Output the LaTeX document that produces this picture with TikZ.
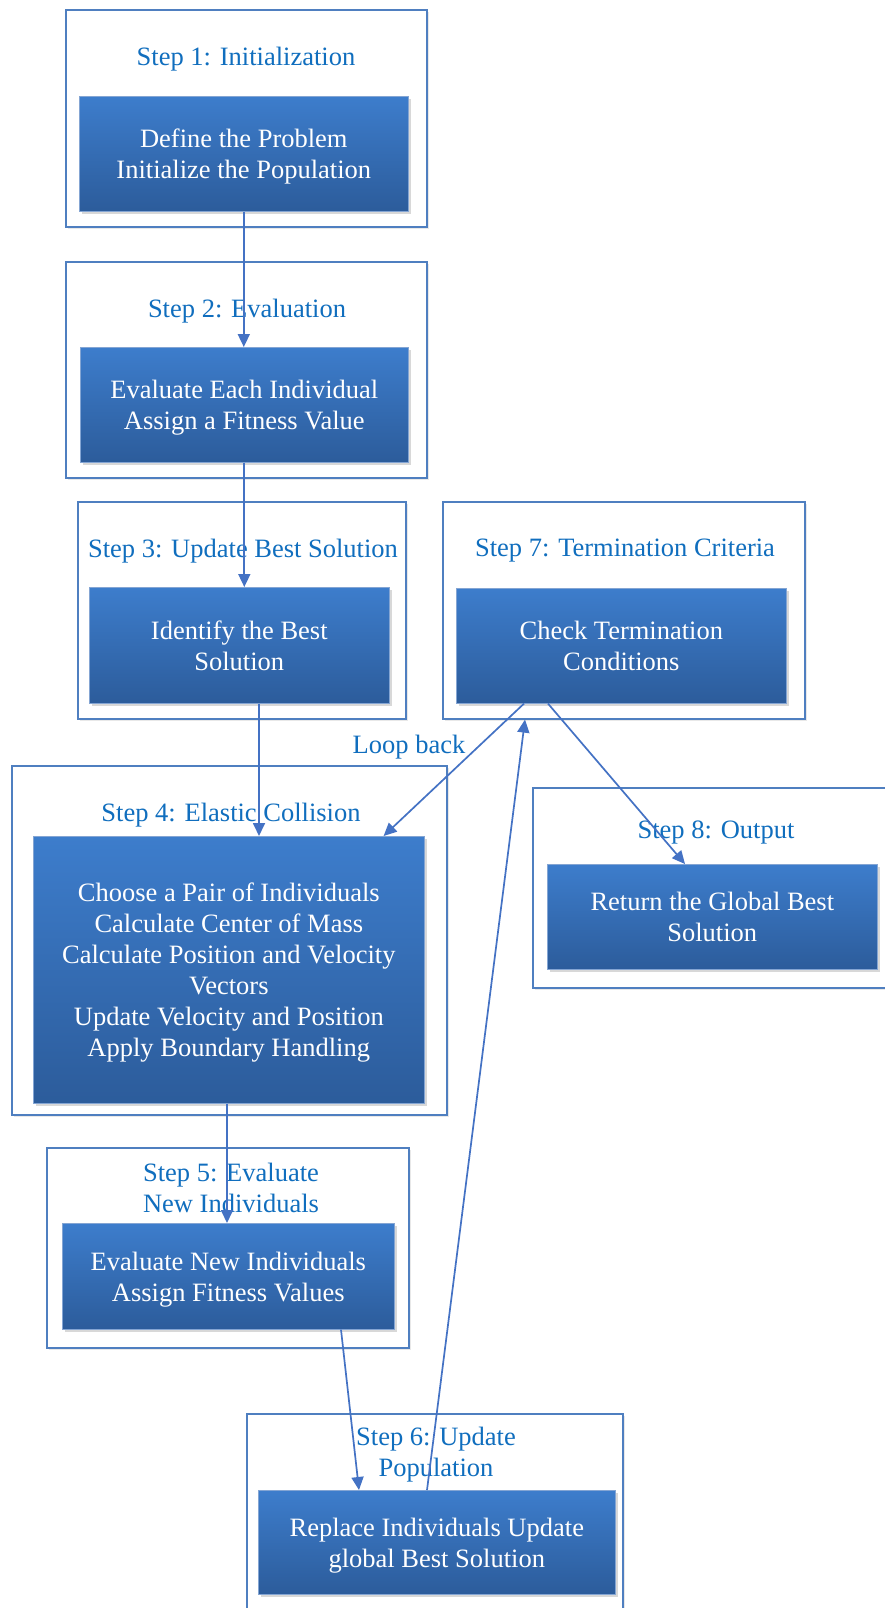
\documentclass[tikz,border=0pt]{standalone}
\usepackage{fontspec}
\setmainfont{Liberation Serif}
\usetikzlibrary{shadows,calc,arrows.meta}
\definecolor{boxline}{RGB}{79,127,192}
\definecolor{arrowc}{RGB}{68,114,196}
\definecolor{titlec}{RGB}{16,110,190}
\definecolor{topc}{RGB}{61,125,204}
\definecolor{botc}{RGB}{44,92,155}
\newcommand{\bxt}[1]{\raisebox{-3pt}[\height][\depth]{\begin{tabular}{@{}c@{}}#1\end{tabular}}}
\tikzset{
  outerbox/.style={draw=boxline, line width=1.6pt, fill=white, inner sep=0pt, anchor=north west,
    drop shadow={shadow xshift=2pt, shadow yshift=-2pt, opacity=0.18}},
  innerbox/.style={draw=boxline!70, line width=0.6pt, top color=topc, bottom color=botc,
    inner sep=0pt, anchor=north west, text=white, align=center,
    font=\fontsize{26.5}{31}\selectfont,
    drop shadow={shadow xshift=2.5pt, shadow yshift=-3pt, opacity=0.3}},
  titletext/.style={text=titlec, align=center, font=\fontsize{26.5}{31}\selectfont, inner sep=0pt},
  conn/.style={draw=arrowc, line width=1.7pt, -{Triangle[length=13pt,width=12pt]}}
}
\begin{document}
\begin{tikzpicture}[x=1pt,y=-1pt]
\useasboundingbox (0,0) rectangle (885,1608);
\fill[white] (0,0) rectangle (885,1608);
% Step 1
\node[outerbox, minimum width=361pt, minimum height=217pt] (o1) at (65,9) {};
\node[titletext] (t1) at (246,59) {Step 1: Initialization};
\node[innerbox, minimum width=329pt, minimum height=115pt] (i1) at (79,96) {\bxt{Define the Problem\\Initialize the Population}};
% Step 2
\node[outerbox, minimum width=361pt, minimum height=216pt] (o2) at (65,261) {};
\node[titletext] (t2) at (247,311) {Step 2: Evaluation};
\node[innerbox, minimum width=328pt, minimum height=115pt] (i2) at (80,347) {\bxt{Evaluate Each Individual\\Assign a Fitness Value}};
% Step 3
\node[outerbox, minimum width=328pt, minimum height=217pt] (o3) at (77,501) {};
\node[titletext] (t3) at (243,551) {Step 3: Update Best Solution};
\node[innerbox, minimum width=300pt, minimum height=116pt] (i3) at (89,587) {\bxt{Identify the Best\\Solution}};
% Step 7
\node[outerbox, minimum width=362pt, minimum height=217pt] (o7) at (442,501) {};
\node[titletext] (t7) at (625,551) {Step 7: Termination Criteria};
\node[innerbox, minimum width=330pt, minimum height=115pt] (i7) at (456,588) {\bxt{Check Termination\\Conditions}};
% Step 8
\node[outerbox, minimum width=372pt, minimum height=200pt] (o8) at (532,787) {};
\node[titletext] (t8) at (716,832) {Step 8: Output};
\node[innerbox, minimum width=330pt, minimum height=105pt] (i8) at (547,864) {\bxt{Return the Global Best\\Solution}};
% Step 4
\node[outerbox, minimum width=435pt, minimum height=349pt] (o4) at (11,765) {};
\node[titletext] (t4) at (231,815) {Step 4: Elastic Collision};
\node[innerbox, minimum width=391pt, minimum height=267pt] (i4) at (33,836) {\bxt{Choose a Pair of Individuals\\Calculate Center of Mass\\Calculate Position and Velocity\\Vectors\\Update Velocity and Position\\Apply Boundary Handling}};
% Step 5
\node[outerbox, minimum width=362pt, minimum height=200pt] (o5) at (46,1147) {};
\node[titletext] (t5) at (231,1188) {Step 5: Evaluate\\New Individuals};
\node[innerbox, minimum width=332pt, minimum height=106pt] (i5) at (62,1223) {\bxt{Evaluate New Individuals\\Assign Fitness Values}};
% Step 6
\node[outerbox, minimum width=376pt, minimum height=220pt] (o6) at (246,1413) {};
\node[titletext] (t6) at (436,1455) {Step 6: Update\\Population};
\node[innerbox, minimum width=357pt, minimum height=104pt] (i6) at (258,1490) {\bxt{Replace Individuals Update\\global Best Solution}};
% Loop back label
\node[titletext] (lb) at (409,747) {Loop back};
% connectors
\draw[conn] (i1.south) -- (i1.south |- i2.north);
\draw[conn] (i2.south) -- (i2.south |- i3.north);
\draw[conn] ($(i3.south west)+(170,0)$) -- ($(i4.north west)+(226,0)$);
\draw[conn] ($(i4.south west)+(194,0)$) -- ($(i5.north west)+(165,0)$);
\draw[conn] ($(i5.south west)+(279,0)$) -- ($(i6.north west)+(101,0)$);
\draw[conn] ($(i6.north west)+(169,0)$) -- ($(o7.south west)+(83,0)$);
\draw[conn] ($(i7.south west)+(68,0)$) -- ($(i4.north east)+(-41,0)$);
\draw[conn] ($(i7.south west)+(92,0)$) -- ($(i8.north west)+(138,0)$);
\end{tikzpicture}
\end{document}
